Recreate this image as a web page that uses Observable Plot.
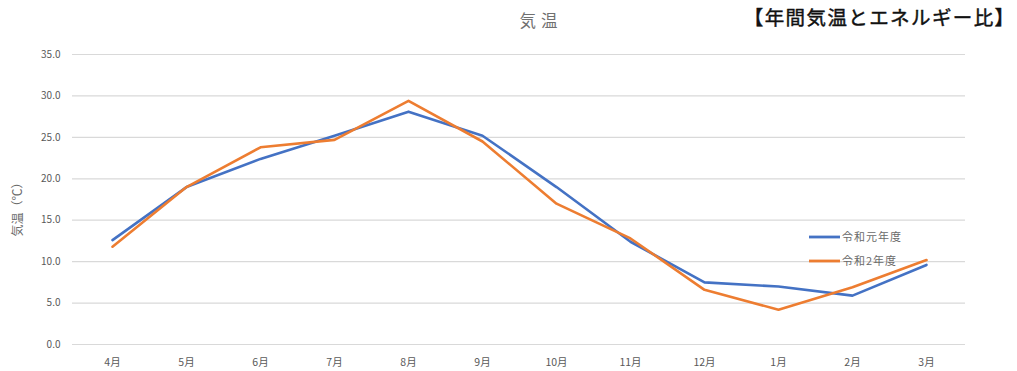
<!DOCTYPE html>
<html>
<head>
<meta charset="utf-8">
<script src="https://cdn.jsdelivr.net/npm/d3@7"></script>
<script src="https://cdn.jsdelivr.net/npm/@observablehq/plot@0.6"></script>
<style>
  html, body { margin: 0; padding: 0; background: #fff; }
  #chart { position: relative; width: 1017px; height: 371px; }
</style>
</head>
<body>
<div id="chart"></div>
<script>
// Monthly mean temperature, fiscal year (April–March)
const months = ["4月", "5月", "6月", "7月", "8月", "9月", "10月", "11月", "12月", "1月", "2月", "3月"];
const seriesNames = ["令和元年度", "令和2年度"];
const reiwa1 = [12.6, 19.0, 22.4, 25.2, 28.1, 25.2, 19.0, 12.4, 7.5, 7.0, 5.9, 9.6];
const reiwa2 = [11.8, 19.0, 23.8, 24.7, 29.4, 24.5, 17.0, 12.8, 6.6, 4.2, 6.9, 10.2];
const yTicks = [0, 5, 10, 15, 20, 25, 30, 35];
const colors = ["#4472C4", "#ED7D31"];

const rows = [
  ...months.map((m, i) => ({month: m, temp: reiwa1[i], series: seriesNames[0]})),
  ...months.map((m, i) => ({month: m, temp: reiwa2[i], series: seriesNames[1]}))
];

const font = "'Noto Sans CJK JP', 'Noto Sans', sans-serif";

const plot = Plot.plot({
  width: 1017,
  height: 371,
  marginLeft: 72,
  marginRight: 52,
  marginTop: 54,
  marginBottom: 27,
  style: {fontFamily: font, background: "#fff"},
  x: {type: "point", domain: months, padding: 0.5},
  y: {domain: [0, 35]},
  color: {domain: seriesNames, range: colors},
  marks: [
    Plot.ruleY(yTicks, {stroke: "#d9d9d9", strokeWidth: 1.2}),
    Plot.axisY({
      ticks: yTicks, tickSize: 0, tickPadding: 12,
      tickFormat: d => d.toFixed(1),
      fontSize: 10, fill: "#595959", label: null
    }),
    Plot.axisX({
      tickSize: 0, tickPadding: 14, fontSize: 10.5, fill: "#595959", label: null
    }),
    Plot.line(rows, {
      x: "month", y: "temp", z: "series", stroke: "series",
      strokeWidth: 2.6, strokeLinejoin: "round", strokeLinecap: "round"
    }),
    // y-axis title
    Plot.text(["気温（℃）"], {
      frameAnchor: "left", dx: -54, dy: 7, rotate: -90, fontSize: 12,
      fill: "#6a6a6a", textAnchor: "middle"
    }),
    Plot.text(["気温"], {
      frameAnchor: "top", dx: 22, dy: -33, fontSize: 16.5, fill: "#707070",
      textAnchor: "middle", lineAnchor: "middle", className: "chart-title"
    }),
    Plot.text(["【年間気温とエネルギー比】"], {
      frameAnchor: "top-right", dx: 50, dy: -36, fontSize: 19.5,
      fill: "#111", stroke: "#111", strokeWidth: 0.45,
      textAnchor: "end", lineAnchor: "middle", className: "headline"
    })
  ]
});

document.getElementById("chart").appendChild(plot);

const svg = d3.select(plot);
// wider character spacing for the two titles
svg.selectAll("g.headline text").style("letter-spacing", "1.4px");
svg.selectAll("g.chart-title text").style("letter-spacing", "5px");

// Legend inside the plot area, right side
const legend = svg.append("g")
  .attr("transform", "translate(809,237)")
  .attr("text-anchor", "start");
seriesNames.forEach((name, i) => {
  const g = legend.append("g").attr("transform", `translate(0,${i * 24})`);
  g.append("line").attr("x1", 0).attr("x2", 31).attr("y1", 0).attr("y2", 0)
    .attr("stroke", colors[i]).attr("stroke-width", 2.8);
  g.append("text").attr("x", 33).attr("y", 0).attr("dy", "0.35em")
    .attr("text-anchor", "start")
    .attr("font-size", 11).attr("fill", "#6a6a6a").attr("font-family", font)
    .style("letter-spacing", "1px")
    .text(name);
});
</script>
</body>
</html>
